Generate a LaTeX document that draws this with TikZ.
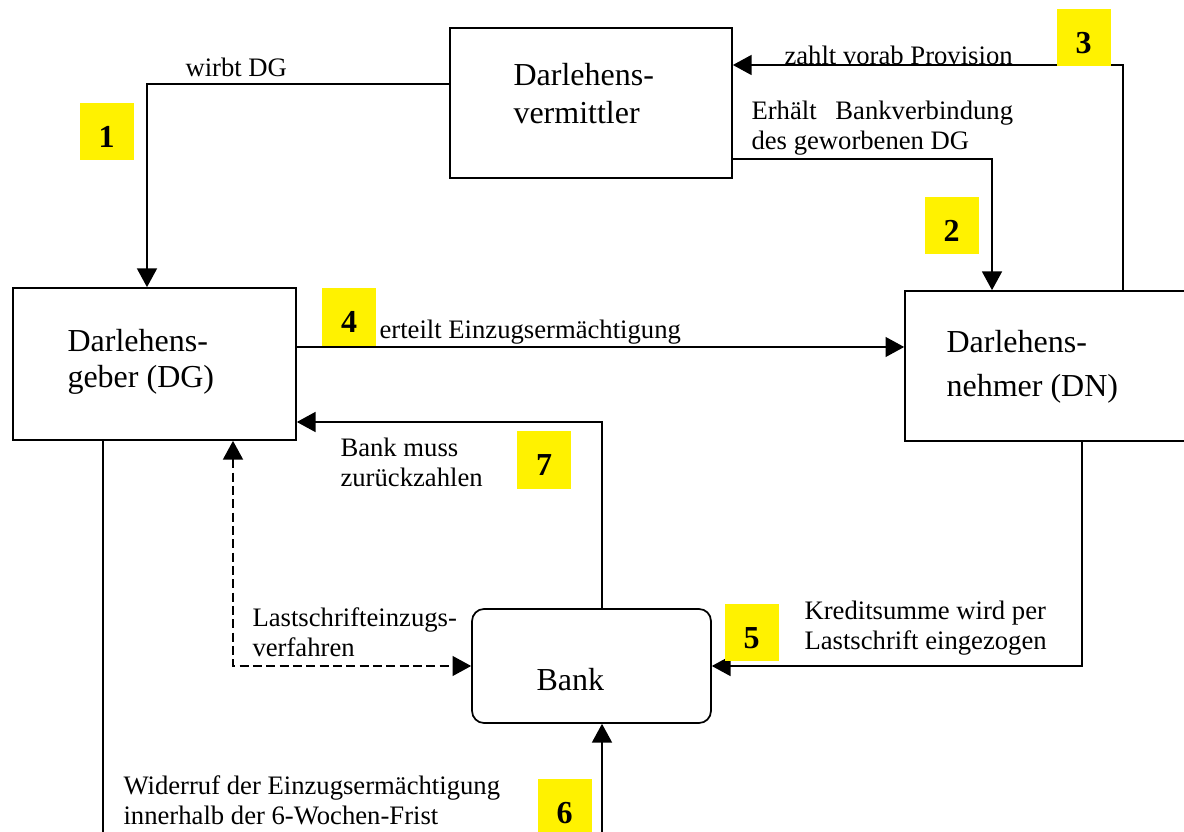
\documentclass[tikz,border=0pt]{standalone}
\usepackage{fontspec}
\setmainfont{Liberation Serif}
\usetikzlibrary{arrows.meta,calc}

\begin{document}
\begin{tikzpicture}[x=0.375pt, y=-0.375pt,
    party/.style={draw,line width=.65pt,rectangle,inner sep=0pt},
    big/.style={anchor=north west,inner sep=0pt,align=left,font=\fontsize{12}{13.5}\selectfont},
    txt/.style={anchor=north west,inner sep=0pt,align=left,font=\fontsize{10}{11.25}\selectfont},
    num/.style={fill=yellow,minimum width=20.25pt,minimum height=21.4pt,inner sep=0pt,text height=12pt,text depth=0pt,font=\fontsize{12}{14}\selectfont\bfseries},
    flow/.style={line width=.5pt,-{Triangle[length=7pt,width=7.5pt]}},
    both/.style={line width=.5pt,{Triangle[length=7pt,width=7.5pt]}-{Triangle[length=7pt,width=7.5pt]}}]
    \useasboundingbox (0,0) rectangle (1184,832);
    \clip (0,0) rectangle (1184,832);

    \node[party,minimum width=105.75pt,minimum height=56.25pt] (verm) at (591,103) {};
    \node[party,minimum width=106.1pt,minimum height=57pt] (dg) at (154.5,364) {};
    \node[party,minimum width=106.1pt,minimum height=56.25pt] (dn) at (1046.5,366) {};
    \node[party,rounded corners=4.5pt,minimum width=89.6pt,minimum height=42.75pt] (bank) at (591.5,666) {};

    \node[big] (vermtext) at (513,63) {Darlehens-\\[0.75pt]vermittler};
    \node[big] (dgtext) at (67,329) {Darlehens-\\geber (DG)};
    \node[big] (dntext) at (946,330) {Darlehens-\\[3pt]nehmer (DN)};
    \node[big] (banktext) at (536,668) {Bank};

    \coordinate (revoke) at (602,832);
    \coordinate (dgdown) at (103,832);

    \draw[flow] (verm.west |- 0,84) -| (dg.north -| 147,0);
    \draw[flow] (verm.east |- 0,159) -| (dn.north -| 992,0);
    \draw[flow] (dn.north -| 1123,0) |- (verm.east |- 0,65);
    \draw[flow] (dg.east |- 0,347) -- (dn.west |- 0,347);
    \draw[flow] (bank.north -| 602,0) |- (dg.east |- 0,422);
    \draw[both,dash pattern=on 3.4pt off 1.6pt] (dg.south -| 233,0) |- (bank.west |- 0,666);
    \draw[flow] (dn.south -| 1082,0) |- (bank.east |- 0,666);
    \draw[flow] (revoke) -- (bank.south -| revoke);
    \draw[line width=.5pt] (dg.south -| dgdown) -- (dgdown);

    \node[txt] (wirbt) at (185,57) {wirbt DG};
    \node[txt] (provision) at (784,45) {zahlt vorab Provision};
    \node[txt] (konto) at (751,100) {Erhält\hspace{7pt}Bankverbindung\\des geworbenen DG};
    \node[txt] (erteilt) at (379,319) {erteilt Einzugsermächtigung};
    \node[txt] (zurueck) at (340,437) {Bank muss\\zurückzahlen};
    \node[txt] (verfahren) at (252,607) {Lastschrifteinzugs-\\verfahren};
    \node[txt] (kredit) at (804,600) {Kreditsumme wird per\\Lastschrift eingezogen};
    \node[txt] (widerruf) at (123,775) {Widerruf der Einzugsermächtigung\\innerhalb der 6-Wochen-Frist};

    \node[num] (n1) at (106.5,131.5) {1};
    \node[num] (n2) at (951.5,225.5) {2};
    \node[num] (n3) at (1083.5,37.5) {3};
    \node[num] (n4) at (349,317) {4};
    \node[num] (n5) at (751.5,632.5) {5};
    \node[num] (n6) at (564.5,807.5) {6};
    \node[num] (n7) at (544,460) {7};
\end{tikzpicture}
\end{document}
